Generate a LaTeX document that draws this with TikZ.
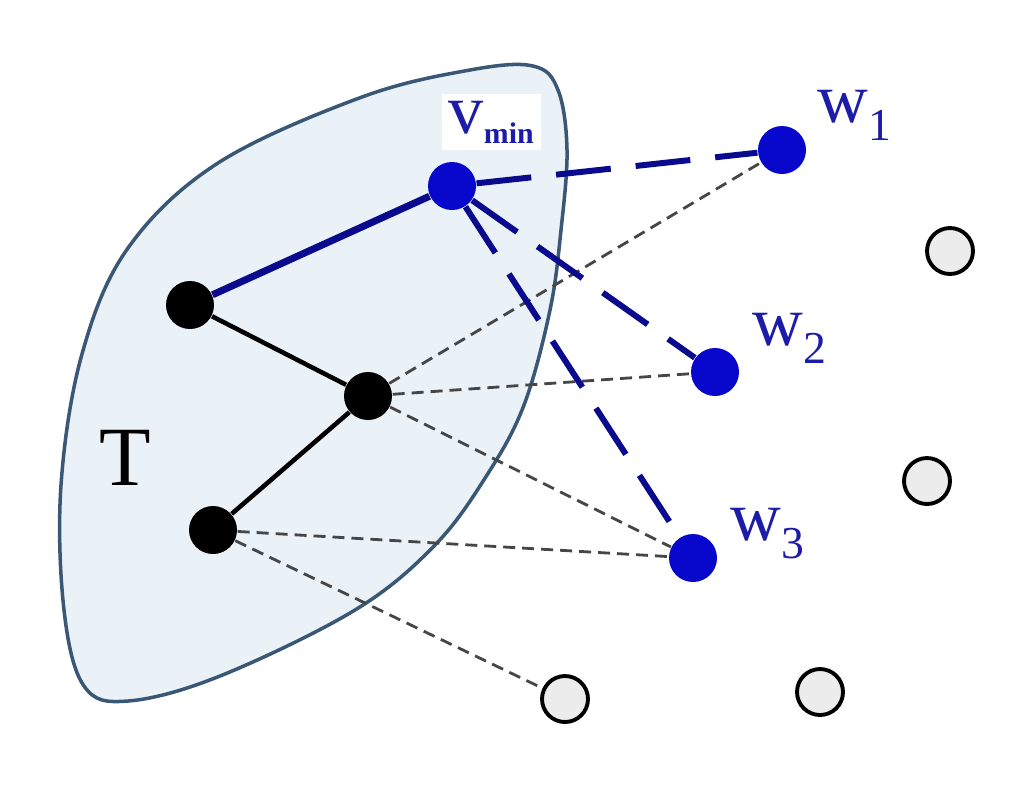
\documentclass[tikz,border=0pt]{standalone}
\usepackage{xcolor}
\usepackage{fontspec}
\setmainfont{Liberation Serif}
\usepackage{tikz}
\usetikzlibrary{positioning}
\definecolor{setfill}{HTML}{EAF1F7}
\definecolor{setdraw}{HTML}{3A5876}
\definecolor{vblue}{HTML}{0808CC}
\definecolor{eblue}{HTML}{0A0A8E}
\definecolor{lblue}{HTML}{1C1CA8}
\tikzstyle{tnode} = [circle,
minimum size=4.8mm, inner sep=0pt,
fill=black]
\tikzstyle{bnode} = [circle,
minimum size=4.8mm, inner sep=0pt,
fill=vblue]
\tikzstyle{onode} = [circle,
minimum size=4.6mm, inner sep=0pt,
draw=black, line width=1.1pt, fill=gray!15]
\tikzstyle{tedge} = [line width=1.3pt]
\tikzstyle{bedge} = [line width=2pt, draw=eblue]
\tikzstyle{bdash} = [line width=1.7pt, draw=eblue, dash pattern=on 5.5mm off 2.5mm]
\tikzstyle{gdash} = [line width=0.8pt, draw=gray!55!black, dash pattern=on 1.2mm off 0.7mm]
\tikzstyle{wlabel} = [text=lblue, inner sep=0pt, anchor=base west,
font=\fontsize{20}{20}\selectfont]
\newcommand{\wsub}[1]{\raisebox{-1.8mm}{\fontsize{13}{13}\selectfont #1}}

\begin{document}
\begin{tikzpicture}[x=0.1mm, y=-0.1mm]
            \useasboundingbox (0,0) rectangle (1024,798);
            % the set T
            \draw[setdraw, fill=setfill, line width=1pt]
              plot[smooth cycle, tension=0.6] coordinates {
                (533,66) (558,90) (567,150) (561,230) (550,310) (524,405)
                (487,475) (435,545) (355,610) (220,676) (128,701) (84,686)
                (64,610) (61,485) (82,354) (128,248) (218,163) (362,97) (470,70)};
            \node (T) [font=\fontsize{24}{24}\selectfont] at (125,458) {T};

            \node (vmin) [bnode] at (452,186) {};
            \node (a) [tnode] at (190,305) {};
            \node (b) [tnode] at (368,396) {};
            \node (c) [tnode] at (213,530) {};
            \node (w1) [bnode] at (782,150) {};
            \node (w2) [bnode] at (715,372) {};
            \node (w3) [bnode] at (693,558) {};
            \node (e1) [onode] at (950,251) {};
            \node (e2) [onode] at (927,481) {};
            \node (e3) [onode] at (565,699) {};
            \node (e4) [onode] at (820,692) {};

            \node (lvmin) [fill=white, inner sep=2pt, text=lblue, anchor=base west,
              font=\fontsize{20}{20}\selectfont] at (441,133)
              {v\raisebox{-1mm}{\fontsize{8.5}{8.5}\selectfont\bfseries min}};
            \node (lw1) [wlabel] at (817,122) {w\wsub{1}};
            \node (lw2) [wlabel] at (752,345) {w\wsub{2}};
            \node (lw3) [wlabel] at (730,540) {w\wsub{3}};

            \draw [gdash] (b) -- (w1);
            \draw [gdash] (b) -- (w2);
            \draw [gdash] (b) -- (w3);
            \draw [gdash] (c) -- (w3);
            \draw [gdash] (c) -- (e3);

            \draw [bdash] (vmin) -- (w1);
            \draw [bdash] (vmin) -- (w2);
            \draw [bdash] (vmin) -- (w3);

            \draw [bedge] (a) -- (vmin);
            \draw [tedge] (a) -- (b);
            \draw [tedge] (b) -- (c);
        \end{tikzpicture}
\end{document}
